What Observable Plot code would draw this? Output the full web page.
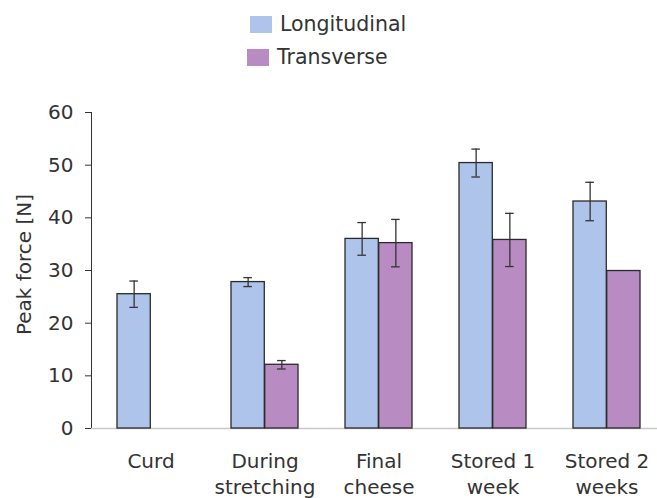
<!DOCTYPE html>
<html><head><meta charset="utf-8">
<script src="https://cdn.jsdelivr.net/npm/d3@7"></script>
<script src="https://cdn.jsdelivr.net/npm/@observablehq/plot@0.6"></script>
<style>
body{margin:0;background:#fff;font-family:"DejaVu Sans",sans-serif;color:#333}
#legend{height:80px;position:relative}
.item{position:absolute;display:flex;align-items:center;font-size:20.5px;line-height:24px;color:#333}
.sw{width:22px;height:17px;margin-right:8px}
</style></head><body>
<div id="legend"></div>
<div id="chart"></div>
<script>
const groups = ["Curd", "During\nstretching", "Final\ncheese", "Stored 1\nweek", "Stored 2\nweeks"];
const series = ["Longitudinal", "Transverse"];
const colors = ["#aec4ea", "#b88cc2"];
const longitudinal = [25.5, 27.8, 36.0, 50.4, 43.1];
const longitudinalErr = [2.5, 0.85, 3.1, 2.65, 3.65];
const transverse = [null, 12.1, 35.2, 35.8, 29.9];
const transverseErr = [null, 0.8, 4.5, 5.05, null];
const yTicks = [0, 10, 20, 30, 40, 50, 60];

// legend
const legend = document.getElementById("legend");
const legendPos = [[250, 12], [247, 45]];
series.forEach((s, i) => {
  const it = document.createElement("div");
  it.className = "item";
  it.style.left = legendPos[i][0] + "px";
  it.style.top = legendPos[i][1] + "px";
  it.innerHTML = `<span class="sw" style="background:${colors[i]}"></span><span>${s}</span>`;
  legend.appendChild(it);
});

const rows = (vals, errs) => groups.map((g, i) => ({group: g, value: vals[i], err: errs[i]})).filter(d => d.value != null);
const longRows = rows(longitudinal, longitudinalErr);
const transRows = rows(transverse, transverseErr);
const longErrRows = longRows.filter(d => d.err != null);
const transErrRows = transRows.filter(d => d.err != null);

const W = 657, H = 418, mL = 91, mR = 0, mT = 32, mB = 70;
const xOpts = {type: "band", domain: groups, paddingInner: 0.41, paddingOuter: 0.181, align: 0.6};
const bw = Plot.scale({x: {...xOpts, range: [mL, W - mR]}}).bandwidth;
const cap = 4.5;
const barStyle = {stroke: "#2a2a2a", strokeWidth: 1.3};
const errStyle = {stroke: "#333", strokeWidth: 1.3};

const chart = Plot.plot({
  width: W, height: H,
  marginLeft: mL, marginRight: mR, marginTop: mT, marginBottom: mB,
  style: {fontFamily: "DejaVu Sans, sans-serif", fontSize: "20px", color: "#333", background: "#fff"},
  x: {...xOpts, label: null},
  y: {domain: [0, 60], ticks: yTicks, tickSize: 6, tickPadding: 12, line: true, label: null},
  marks: [
    Plot.ruleY([0], {stroke: "#c8c8c8", strokeWidth: 1.5}),
    Plot.barY(longRows, {x: "group", y: "value", fill: colors[0], ...barStyle, insetRight: bw / 2}),
    Plot.barY(transRows, {x: "group", y: "value", fill: colors[1], ...barStyle, insetLeft: bw / 2}),
    Plot.ruleX(longErrRows, {x: "group", y1: d => d.value - d.err, y2: d => d.value + d.err, dx: -bw / 4, ...errStyle}),
    Plot.ruleX(transErrRows, {x: "group", y1: d => d.value - d.err, y2: d => d.value + d.err, dx: bw / 4, ...errStyle}),
    Plot.tickY(longErrRows, {x: "group", y: d => d.value + d.err, insetLeft: bw / 4 - cap, insetRight: 3 * bw / 4 - cap, ...errStyle}),
    Plot.tickY(longErrRows, {x: "group", y: d => d.value - d.err, insetLeft: bw / 4 - cap, insetRight: 3 * bw / 4 - cap, ...errStyle}),
    Plot.tickY(transErrRows, {x: "group", y: d => d.value + d.err, insetLeft: 3 * bw / 4 - cap, insetRight: bw / 4 - cap, ...errStyle}),
    Plot.tickY(transErrRows, {x: "group", y: d => d.value - d.err, insetLeft: 3 * bw / 4 - cap, insetRight: bw / 4 - cap, ...errStyle}),
    Plot.axisX({tickSize: 0, tickPadding: 21, lineHeight: 1.3, fontSize: 20, fill: "#333", label: null}),
    Plot.text(["Peak force [N]"], {frameAnchor: "left", textAnchor: "middle", rotate: -90, dx: -67, dy: -6, fontSize: 20, fill: "#333"})
  ]
});
document.getElementById("chart").appendChild(chart);
</script>
</body></html>
